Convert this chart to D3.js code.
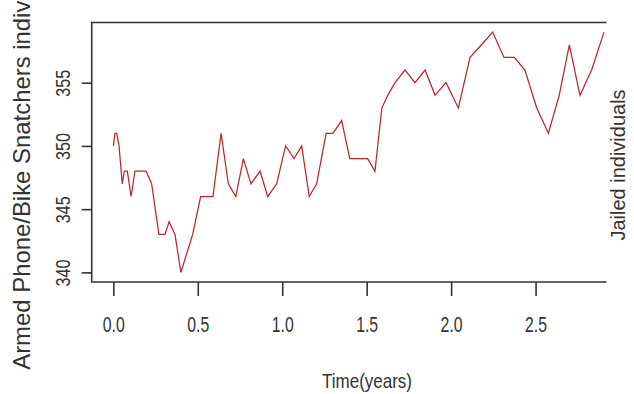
<!DOCTYPE html>
<html>
<head>
<meta charset="utf-8">
<script src="https://cdn.jsdelivr.net/npm/d3@7"></script>
<style>
  html, body { margin: 0; padding: 0; background: #fff; }
  svg { display: block; }
</style>
</head>
<body>
<svg id="chart" width="634" height="394"></svg>
<script>
// Time (years) of each observation
const times = [
  0.000, 0.010, 0.020, 0.034, 0.053, 0.065, 0.083, 0.105, 0.128, 0.194,
  0.227, 0.270, 0.306, 0.330, 0.365, 0.400, 0.470, 0.517, 0.590, 0.638,
  0.681, 0.725, 0.770, 0.815, 0.869, 0.914, 0.967, 1.020, 1.070, 1.115,
  1.160, 1.204, 1.260, 1.300, 1.352, 1.400, 1.506, 1.549, 1.590, 1.625,
  1.668, 1.727, 1.786, 1.846, 1.905, 1.970, 2.043, 2.112, 2.180, 2.246,
  2.313, 2.374, 2.437, 2.507, 2.576, 2.640, 2.700, 2.763, 2.832, 2.905
];
// Armed phone / bike snatchers individuals at each time
const snatchers = [
  350, 351, 351, 350, 347, 348, 348, 346, 348, 348,
  347, 343, 343, 344, 343, 340, 343, 346, 346, 351,
  347, 346, 349, 347, 348, 346, 347, 350, 349, 350,
  346, 347, 351, 351, 352, 349, 349, 348, 353, 354,
  355, 356, 355, 356, 354, 355, 353, 357, 358, 359,
  357, 357, 356, 353, 351, 354, 358, 354, 356, 359
];
const xTicks = [0, 0.5, 1.0, 1.5, 2.0, 2.5];
const yTicks = [340, 345, 350, 355];

const xLabel = "Time(years)";
const yLabel = "Armed Phone/Bike Snatchers individuals";
const rightLabel = "Jailed individuals";

const svg = d3.select("#chart");
const plotLeft = 91.7, plotRight = 606.5, plotTop = 22.5, plotBottom = 282;

const x = d3.scaleLinear().domain([-0.128, 2.92]).range([plotLeft, plotRight]);
const y = d3.scaleLinear().domain([339.24, 359.76]).range([plotBottom, plotTop]);

const ink = "#333";
const font = "'Liberation Sans', Arial, sans-serif";

svg.append("clipPath").attr("id", "plotClip")
  .append("rect").attr("x", plotLeft).attr("y", plotTop)
  .attr("width", plotRight - plotLeft).attr("height", plotBottom - plotTop);

// series line
const points = times.map((t, i) => [t, snatchers[i]]);
svg.append("path")
  .datum(points)
  .attr("clip-path", "url(#plotClip)")
  .attr("fill", "none")
  .attr("stroke", "#b9272e")
  .attr("stroke-width", 1.25)
  .attr("d", d3.line().x(d => x(d[0])).y(d => y(d[1])));

// plot frame (left, top, bottom)
svg.append("path")
  .attr("fill", "none")
  .attr("stroke", ink)
  .attr("stroke-width", 1.6)
  .attr("d", `M${plotRight},${plotTop}H${plotLeft}V${plotBottom}H${plotRight}`);

// x axis, condensed tick labels
const xAxis = svg.append("g")
  .attr("transform", `translate(0,${plotBottom})`)
  .call(d3.axisBottom(x).tickValues(xTicks).tickSize(14).tickFormat(d3.format(".1f")));
xAxis.select(".domain").remove();
xAxis.selectAll(".tick line").attr("stroke", ink).attr("stroke-width", 1.6);
xAxis.selectAll(".tick text")
  .attr("y", 50).attr("dy", null)
  .attr("fill", ink)
  .attr("textLength", 22).attr("lengthAdjust", "spacingAndGlyphs")
  .style("font-family", font).style("font-size", "22px");

// y axis, rotated condensed tick labels
const yAxis = svg.append("g")
  .attr("transform", `translate(${plotLeft},0)`)
  .call(d3.axisLeft(y).tickValues(yTicks).tickSize(10));
yAxis.select(".domain").remove();
yAxis.selectAll(".tick line").attr("stroke", ink).attr("stroke-width", 1.6);
yAxis.selectAll(".tick text")
  .attr("x", 0).attr("y", -22).attr("dy", null)
  .attr("transform", "rotate(-90)")
  .attr("text-anchor", "middle")
  .attr("fill", ink)
  .attr("textLength", 27).attr("lengthAdjust", "spacingAndGlyphs")
  .style("font-family", font).style("font-size", "21px");

// axis titles
svg.append("text")
  .attr("x", 367).attr("y", 388)
  .attr("text-anchor", "middle")
  .attr("fill", ink)
  .attr("textLength", 90).attr("lengthAdjust", "spacingAndGlyphs")
  .style("font-family", font).style("font-size", "21px")
  .text(xLabel);

svg.append("text")
  .attr("transform", `translate(30,154) rotate(-90)`)
  .attr("text-anchor", "middle")
  .attr("fill", ink)
  .style("font-family", font).style("font-size", "23.9px")
  .text(yLabel);

svg.append("text")
  .attr("transform", `translate(625,165) rotate(-90)`)
  .attr("text-anchor", "middle")
  .attr("fill", ink)
  .style("font-family", font).style("font-size", "20px")
  .text(rightLabel);
</script>
</body>
</html>
